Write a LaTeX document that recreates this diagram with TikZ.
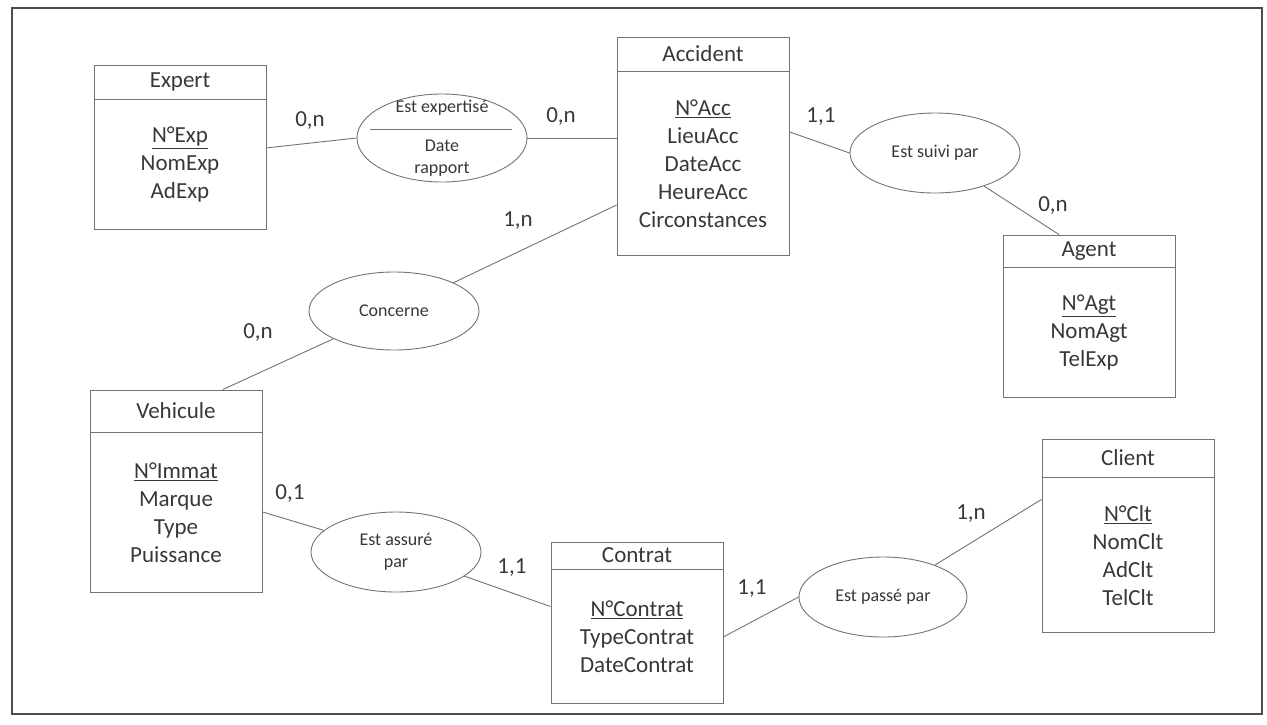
\documentclass[tikz,border=0pt]{standalone}
\usepackage{fontspec}
\setmainfont{Carlito}
\usetikzlibrary{positioning, shapes.geometric}

\definecolor{boxgray}{gray}{0.45}
\definecolor{inkgray}{gray}{0.22}
\definecolor{framegray}{gray}{0.30}

\begin{document}
\begin{tikzpicture}[
    x = 1pt, y = -1pt,
    font = \fontsize{23}{28}\selectfont,
    %% ── node styles ──────────────────────────────────────────
    Ehead/.style = {draw=boxgray, line width=0.9pt, minimum width=172pt,
                    inner sep=2pt, text=inkgray},
    Ebody/.style = {draw=boxgray, line width=0.9pt, minimum width=172pt,
                    inner sep=2pt, align=center, text=inkgray},
    Rel/.style   = {draw=boxgray, line width=0.9pt, ellipse, inner sep=0pt,
                    align=center, text=inkgray,
                    font=\fontsize{18}{22}\selectfont},
    card/.style  = {text=inkgray, inner sep=0pt},
    link/.style  = {draw=boxgray, line width=0.9pt}
]
\useasboundingbox (0,0) rectangle (1267,724);

%% ── Frame ────────────────────────────────────────────────────
\draw[line width=1.4pt, framegray] (12,8) rectangle (1262,714);

%% ── Entities ─────────────────────────────────────────────────
\node[Ehead, minimum height=34pt] (exph) at (180,82) {Expert};
\node[Ebody, minimum height=130pt, below=0pt of exph] (expb)
    {\underline{N°Exp}\\NomExp\\AdExp};

\node[Ehead, minimum height=34pt] (acch) at (703,54) {Accident};
\node[Ebody, minimum height=184pt, below=0pt of acch] (accb)
    {\underline{N°Acc}\\LieuAcc\\DateAcc\\HeureAcc\\Circonstances};

\node[Ehead, minimum height=32pt] (agth) at (1089,251) {Agent};
\node[Ebody, minimum height=130pt, below=0pt of agth] (agtb)
    {\underline{N°Agt}\\NomAgt\\TelExp};

\node[Ehead, minimum height=42pt] (vehh) at (176,411) {Vehicule};
\node[Ebody, minimum height=160pt, below=0pt of vehh] (vehb)
    {\underline{N°Immat}\\Marque\\Type\\Puissance};

\node[Ehead, minimum height=27pt] (ctrh) at (637,555.5) {Contrat};
\node[Ebody, minimum height=134pt, below=0pt of ctrh] (ctrb)
    {\underline{N°Contrat}\\TypeContrat\\DateContrat};

\node[Ehead, minimum height=38pt] (clth) at (1128,458) {Client};
\node[Ebody, minimum height=155pt, below=0pt of clth] (cltb)
    {\underline{N°Clt}\\NomClt\\AdClt\\TelClt};

%% ── Relations ────────────────────────────────────────────────
\node[Rel, minimum width=170pt, minimum height=88pt, inner sep=-8pt]
    (expertise) at (442,138) {Est expertisé\\[17pt]Date\\rapport};
\draw[link] ([xshift=13pt, yshift=9pt]expertise.west)
         -- ([xshift=-15pt, yshift=9pt]expertise.east);

\node[Rel, minimum width=170pt, minimum height=80pt] (suivi)
    at (935,153) {Est suivi par};
\node[Rel, minimum width=170pt, minimum height=78pt] (concerne)
    at (394,311) {Concerne};
\node[Rel, minimum width=170pt, minimum height=80pt] (assure)
    at (396,552) {Est assuré\\par};
\node[Rel, minimum width=168pt, minimum height=80pt] (passe)
    at (883,597) {Est passé par};

%% ── Links ────────────────────────────────────────────────────
\draw[link] ([yshift=17pt]expb.east) -- (expertise.west);
\draw[link] (expertise.east) -- (expertise.east -| accb.west);
\draw[link] ([yshift=32pt]accb.east) -- (suivi.west);
\draw[link] (suivi.-34) -- ([xshift=-30pt]agth.north);
\draw[link] (concerne) -- (accb);
\draw[link] (concerne) -- (vehh);
\draw[link] ([yshift=1pt]vehb.east) -- (assure);
\draw[link] (assure) -- (ctrb);
\draw[link] (ctrb.east) -- (passe.west);
\draw[link] (passe) -- ([yshift=56pt]cltb.west);

%% ── Cardinalities ────────────────────────────────────────────
\node[card] (cExp)  at (310,121)  {0,n};
\node[card] (cAcc1) at (561,117)  {0,n};
\node[card] (cAcc2) at (821,117)  {1,1};
\node[card] (cAgt)  at (1053,206) {0,n};
\node[card] (cAcc3) at (518,221)  {1,n};
\node[card] (cVeh1) at (258,333)  {0,n};
\node[card] (cVeh2) at (290,493)  {0,1};
\node[card] (cCtr1) at (512,568)  {1,1};
\node[card] (cCtr2) at (752,589)  {1,1};
\node[card] (cClt)  at (971,514)  {1,n};

\end{tikzpicture}
\end{document}
